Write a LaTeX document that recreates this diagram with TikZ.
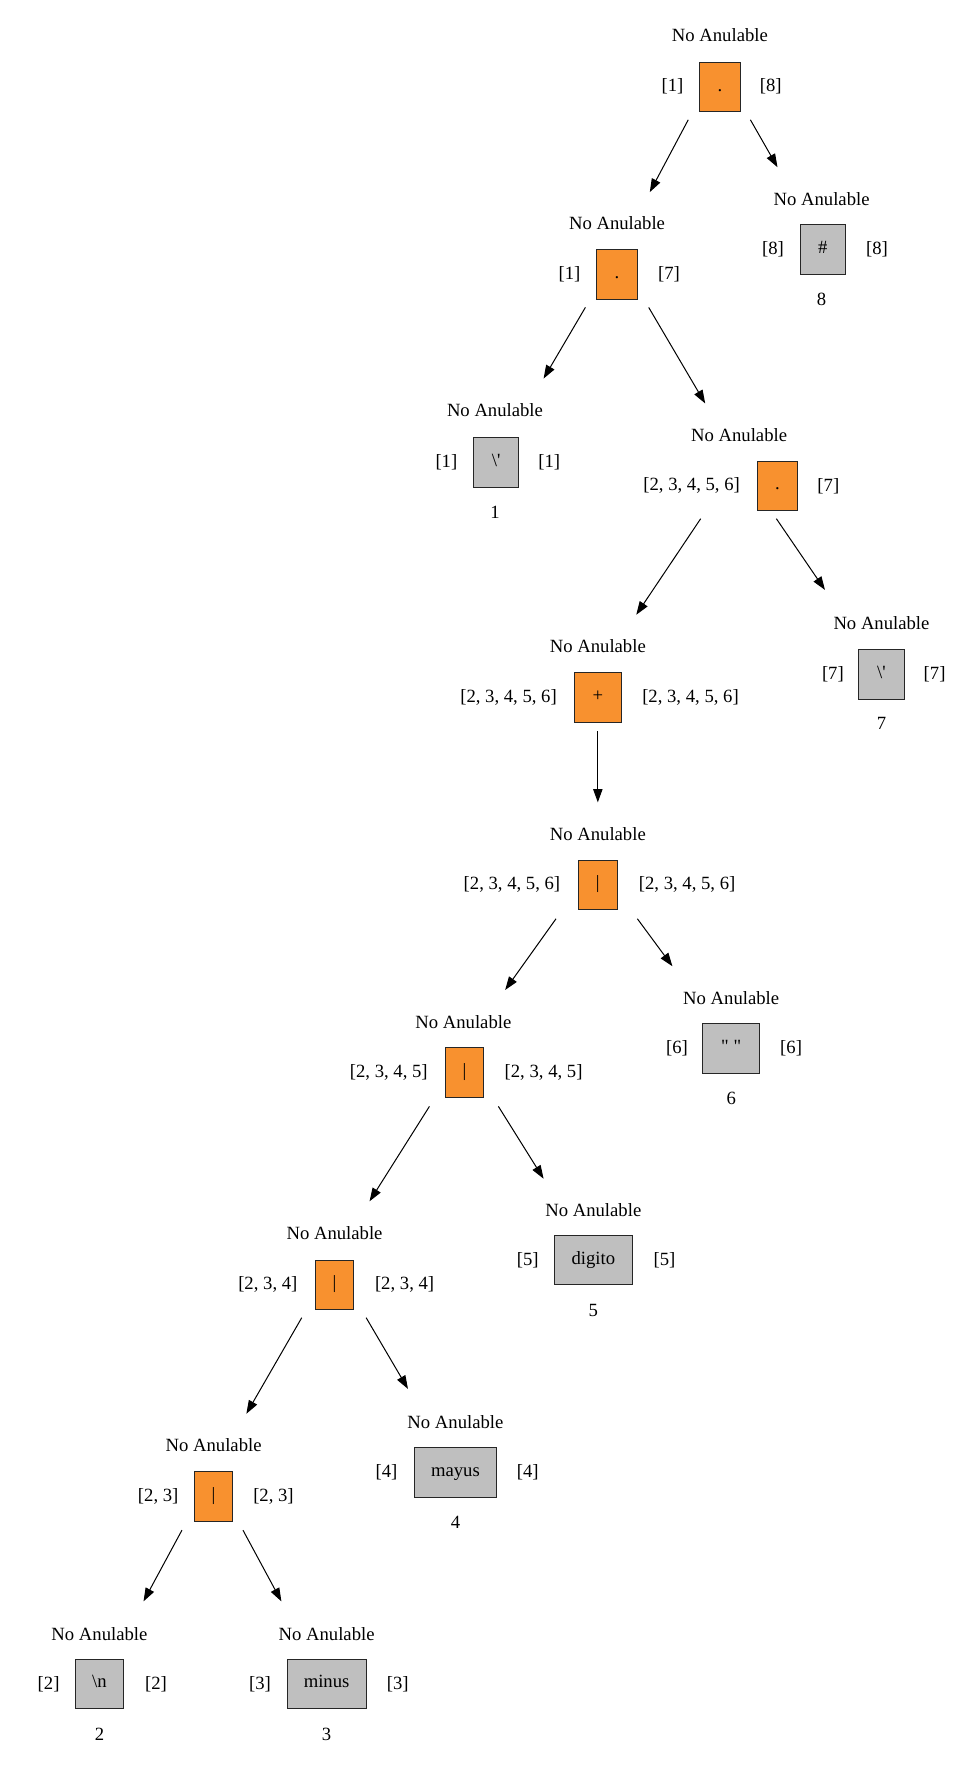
\documentclass[tikz,border=0pt]{standalone}
\usepackage{fontspec}
\setmainfont{Liberation Serif}
\usetikzlibrary{arrows.meta}
\definecolor{opfill}{HTML}{F8912F}
\definecolor{leaffill}{HTML}{BFBFBF}
\newlength{\px}
\setlength{\px}{0.8471pt}
\begin{document}
\begin{tikzpicture}[x=1\px, y=-1\px,
  every node/.style={font=\fontsize{14}{16}\selectfont, inner sep=0pt},
  boxbase/.style={draw=black!85, line width=0.75pt, minimum height=44\px, text height=9pt, text depth=3pt},
  opbox/.style={boxbase, fill=opfill, minimum width=#1\px},
  opbox/.default=36,
  leafbox/.style={boxbase, fill=leaffill, minimum width=#1\px},
  leafbox/.default=40,
  edge/.style={line width=0.75pt, -{Triangle[length=10pt,width=7pt]}}]
\useasboundingbox (0,0) rectangle (865,1568);

% root: concatenation
\node[opbox] (root) at (637,77) {.};
\node (rootT) at (637,31) {No Anulable};
\node (rootL) at (595,76) {[1]};
\node (rootR) at (682,76) {[8]};

% concatenation
\node[opbox] (catA) at (546,243) {.};
\node (catAT) at (546,197) {No Anulable};
\node (catAL) at (504,243) {[1]};
\node (catAR) at (592,243) {[7]};

% leaf 8: #
\node[leafbox] (leafH) at (728,221) {\#};
\node (leafHT) at (727,176) {No Anulable};
\node (leafHL) at (684,221) {[8]};
\node (leafHR) at (776,221) {[8]};
\node (leafHN) at (727,265) {8};

% leaf 1
\node[leafbox] (leafQa) at (439,409) {\textbackslash\textquotesingle};
\node (leafQaT) at (438,363) {No Anulable};
\node (leafQaL) at (395,409) {[1]};
\node (leafQaR) at (486,409) {[1]};
\node (leafQaN) at (438,453) {1};

% concatenation
\node[opbox] (catB) at (688,430) {.};
\node (catBT) at (654,385) {No Anulable};
\node (catBL) at (612,430) {[2, 3, 4, 5, 6]};
\node (catBR) at (733,430) {[7]};

% positive closure
\node[opbox=42] (plus) at (529,617) {+};
\node (plusT) at (529,572) {No Anulable};
\node (plusL) at (450,617) {[2, 3, 4, 5, 6]};
\node (plusR) at (611,617) {[2, 3, 4, 5, 6]};

% leaf 7
\node[leafbox] (leafQb) at (780,597) {\textbackslash\textquotesingle};
\node (leafQbT) at (780,551) {No Anulable};
\node (leafQbL) at (737,597) {[7]};
\node (leafQbR) at (827,597) {[7]};
\node (leafQbN) at (780,640) {7};

% alternation
\node[opbox=35] (orA) at (529,783) {|};
\node (orAT) at (529,738) {No Anulable};
\node (orAL) at (453,783) {[2, 3, 4, 5, 6]};
\node (orAR) at (608,783) {[2, 3, 4, 5, 6]};

% leaf 6
\node[leafbox=50] (leafSp) at (647,928) {\textquotedbl\ \textquotedbl};
\node (leafSpT) at (647,883) {No Anulable};
\node (leafSpL) at (599,928) {[6]};
\node (leafSpR) at (700,928) {[6]};
\node (leafSpN) at (647,972) {6};

% alternation
\node[opbox=34] (orB) at (411,949) {|};
\node (orBT) at (410,904) {No Anulable};
\node (orBL) at (344,949) {[2, 3, 4, 5]};
\node (orBR) at (481,949) {[2, 3, 4, 5]};

% leaf 5
\node[leafbox=69] (leafDig) at (525,1115) {digito};
\node (leafDigT) at (525,1071) {No Anulable};
\node (leafDigL) at (467,1115) {[5]};
\node (leafDigR) at (588,1115) {[5]};
\node (leafDigN) at (525,1160) {5};

% alternation
\node[opbox=34] (orC) at (296,1137) {|};
\node (orCT) at (296,1091) {No Anulable};
\node (orCL) at (237,1137) {[2, 3, 4]};
\node (orCR) at (358,1137) {[2, 3, 4]};

% leaf 4
\node[leafbox=73] (leafMay) at (403,1303) {mayus};
\node (leafMayT) at (403,1258) {No Anulable};
\node (leafMayL) at (342,1303) {[4]};
\node (leafMayR) at (467,1303) {[4]};
\node (leafMayN) at (403,1347) {4};

% alternation
\node[opbox=34] (orD) at (189,1324) {|};
\node (orDT) at (189,1279) {No Anulable};
\node (orDL) at (140,1324) {[2, 3]};
\node (orDR) at (242,1324) {[2, 3]};

% leaf 2
\node[leafbox=43] (leafNl) at (88,1490) {\textbackslash n};
\node (leafNlT) at (88,1446) {No Anulable};
\node (leafNlL) at (43,1490) {[2]};
\node (leafNlR) at (138,1490) {[2]};
\node (leafNlN) at (88,1535) {2};

% leaf 3
\node[leafbox=70] (leafMin) at (289,1490) {minus};
\node (leafMinT) at (289,1446) {No Anulable};
\node (leafMinL) at (230,1490) {[3]};
\node (leafMinR) at (352,1490) {[3]};
\node (leafMinN) at (289,1535) {3};

% tree edges
\draw[edge] ([shift={(-28,29)}]root.center) -- ([shift={(29,-73)}]catA.center);
\draw[edge] ([shift={(27,29)}]root.center) -- ([shift={(-40,-73)}]leafH.center);
\draw[edge] ([shift={(-28,29)}]catA.center) -- ([shift={(42,-74)}]leafQa.center);
\draw[edge] ([shift={(28,29)}]catA.center) -- ([shift={(-64,-73)}]catB.center);
\draw[edge] ([shift={(-68,29)}]catB.center) -- ([shift={(34,-73)}]plus.center);
\draw[edge] ([shift={(-1,29)}]catB.center) -- ([shift={(-50,-75)}]leafQb.center);
\draw[edge] ([shift={(0,30)}]plus.center) -- ([shift={(0,-73)}]orA.center);
\draw[edge] ([shift={(-37,30)}]orA.center) -- ([shift={(36,-73)}]orB.center);
\draw[edge] ([shift={(35,30)}]orA.center) -- ([shift={(-52,-73)}]leafSp.center);
\draw[edge] ([shift={(-31,30)}]orB.center) -- ([shift={(31,-74)}]orC.center);
\draw[edge] ([shift={(30,30)}]orB.center) -- ([shift={(-44,-72)}]leafDig.center);
\draw[edge] ([shift={(-29,29)}]orC.center) -- ([shift={(29,-73)}]orD.center);
\draw[edge] ([shift={(28,29)}]orC.center) -- ([shift={(-42,-74)}]leafMay.center);
\draw[edge] ([shift={(-28,30)}]orD.center) -- ([shift={(39,-73)}]leafNl.center);
\draw[edge] ([shift={(26,30)}]orD.center) -- ([shift={(-40,-73)}]leafMin.center);
\end{tikzpicture}
\end{document}
